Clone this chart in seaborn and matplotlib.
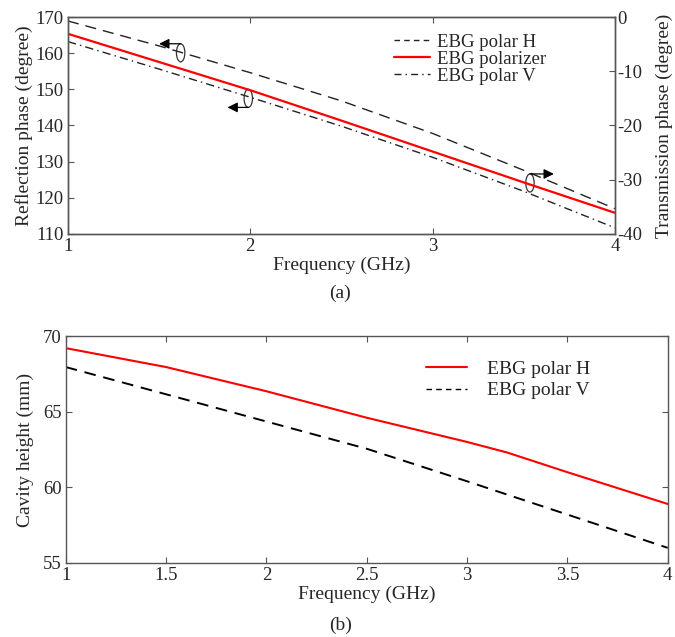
import numpy as np
import pandas as pd
import matplotlib
matplotlib.use("Agg")
import matplotlib.pyplot as plt
from matplotlib.patches import Ellipse
from matplotlib.lines import Line2D
import seaborn as sns

# ---------------- data ----------------
freq_a = [1.0, 1.5, 2.0, 2.5, 3.0, 3.5, 4.0]
refl_polar_h = [168.9, 162.0, 154.6, 146.8, 137.8, 127.6, 117.0]     # reflection phase (deg)
refl_polar_v = [163.2, 155.6, 147.8, 139.8, 131.2, 121.8, 111.7]     # reflection phase (deg)
trans_polarizer = [-3.1, -8.3, -13.5, -19.1, -24.8, -30.5, -36.1]    # transmission phase (deg)

freq_b_h = [1.0, 1.5, 2.0, 2.5, 3.0, 3.2, 3.5, 4.0]
cavity_h = [69.2, 67.95, 66.35, 64.6, 63.0, 62.3, 61.0, 58.9]
freq_b_v = [1.0, 1.5, 2.0, 2.5, 3.0, 3.5, 4.0]
cavity_v = [67.95, 66.15, 64.35, 62.55, 60.4, 58.2, 56.0]

xticks_a = [1, 2, 3, 4]
yticks_refl = [110, 120, 130, 140, 150, 160, 170]
yticks_trans = [-40, -30, -20, -10, 0]
xticks_b = [1, 1.5, 2, 2.5, 3, 3.5, 4]
xticklabels_b = ["1", "1.5", "2", "2.5", "3", "3.5", "4"]
yticks_b = [55, 60, 65, 70]

# annotation markers (ellipse centre x, centre y (left axis), arrow tip x)
annot = [(1.618, 160.1, 1.50, "top"),
         (1.989, 147.5, 1.875, "bottom"),
         (3.534, 124.1, 3.665, "top")]

# ---------------- style ----------------
sns.set_style("ticks")
plt.rcParams["font.family"] = ["Liberation Serif", "DejaVu Serif"]
plt.rcParams["axes.unicode_minus"] = False
FS = 13.5
LFS = 14
SPINE = "#555555"

fig = plt.figure(figsize=(6.75, 6.37), dpi=100)

# ---------------- panel (a) ----------------
ax = fig.add_axes([0.1007, 0.6327, 0.8103, 0.3406])
ax2 = ax.twinx()

df_h = pd.DataFrame({"f": freq_a, "v": refl_polar_h})
df_v = pd.DataFrame({"f": freq_a, "v": refl_polar_v})
df_t = pd.DataFrame({"f": freq_a, "v": trans_polarizer})

sns.lineplot(data=df_h, x="f", y="v", ax=ax, color="#222222", lw=1.0,
             estimator=None)
ax.lines[-1].set_dashes([8, 5])
sns.lineplot(data=df_v, x="f", y="v", ax=ax, color="#222222", lw=1.0,
             estimator=None)
ax.lines[-1].set_dashes([6, 3, 1, 3])
sns.lineplot(data=df_t, x="f", y="v", ax=ax2, color="red", lw=1.6,
             estimator=None)

ax.set_xlim(1, 4)
ax.set_ylim(110, 170)
ax2.set_ylim(-40, 0)
ax.set_xticks(xticks_a)
ax.set_xticklabels([str(t) for t in xticks_a])
ax.set_yticks(yticks_refl)
ax2.set_yticks(yticks_trans)
ax.set_xlabel("Frequency (GHz)", fontsize=LFS, labelpad=1)
ax.set_ylabel("Reflection phase (degree)", fontsize=LFS, labelpad=2)
ax2.set_ylabel("Transmission phase (degree)", fontsize=LFS, labelpad=9)

for a in (ax, ax2):
    for s in a.spines.values():
        s.set_color(SPINE)
        s.set_linewidth(1.0)
ax.tick_params(axis="both", direction="in", labelsize=FS, length=4,
               color=SPINE, top=True, pad=3)
ax.tick_params(axis="y", right=False)
ax2.tick_params(axis="y", direction="in", labelsize=FS, length=4,
                color=SPINE, pad=2)

# ellipses + arrows
for cx, cy, tipx, side in annot:
    w, h = 0.046, 5.0
    ax.add_patch(Ellipse((cx, cy), w, h, fill=False, ec="#333333", lw=0.9,
                         zorder=5))
    ay = cy + h / 2 if side == "top" else cy - h / 2
    ax.annotate("", xy=(tipx, ay), xytext=(cx, ay),
                arrowprops=dict(arrowstyle="-|>", color="black", lw=0.9,
                                mutation_scale=15, shrinkA=0, shrinkB=0),
                zorder=6)

handles_a = [
    Line2D([], [], color="#222222", lw=1.0, dashes=[4, 3]),
    Line2D([], [], color="red", lw=1.6),
    Line2D([], [], color="#222222", lw=1.0, dashes=[5, 3, 1, 3]),
]
labels_a = ["EBG polar H", "EBG polarizer", "EBG polar V"]
ax.legend(handles_a, labels_a, loc="upper left",
          bbox_to_anchor=(0.572, 0.985), frameon=False, fontsize=FS,
          handlelength=1.9, handletextpad=0.4, labelspacing=0.0,
          borderaxespad=0.3)

fig.text(0.504, 0.540, "(a)", ha="center", va="center", fontsize=LFS)

# ---------------- panel (b) ----------------
bx = fig.add_axes([0.0973, 0.1162, 0.8919, 0.3563])
df_bh = pd.DataFrame({"f": freq_b_h, "v": cavity_h})
df_bv = pd.DataFrame({"f": freq_b_v, "v": cavity_v})
sns.lineplot(data=df_bh, x="f", y="v", ax=bx, color="red", lw=1.5,
             estimator=None)
sns.lineplot(data=df_bv, x="f", y="v", ax=bx, color="black", lw=1.4,
             estimator=None)
bx.lines[-1].set_dashes([6, 4])

bx.set_xlim(1, 4)
bx.set_ylim(55, 70)
bx.set_xticks(xticks_b)
bx.set_xticklabels(xticklabels_b)
bx.set_yticks(yticks_b)
bx.set_xlabel("Frequency (GHz)", fontsize=LFS, labelpad=1)
bx.set_ylabel("Cavity height (mm)", fontsize=LFS, labelpad=6)
for s in bx.spines.values():
    s.set_color(SPINE)
    s.set_linewidth(1.0)
bx.tick_params(axis="both", direction="in", labelsize=FS, length=4,
               color=SPINE, top=True, right=True, pad=3)

handles_b = [Line2D([], [], color="red", lw=1.5),
             Line2D([], [], color="black", lw=1.0, dashes=[4, 3])]
labels_b = ["EBG polar H", "EBG polar V"]
bx.legend(handles_b, labels_b, loc="upper left", bbox_to_anchor=(0.57, 0.97),
          frameon=False, fontsize=LFS, handlelength=2.1, handletextpad=1.0,
          labelspacing=0.2)

fig.text(0.504, 0.019, "(b)", ha="center", va="center", fontsize=LFS)

fig.savefig("out.png", dpi=100)
